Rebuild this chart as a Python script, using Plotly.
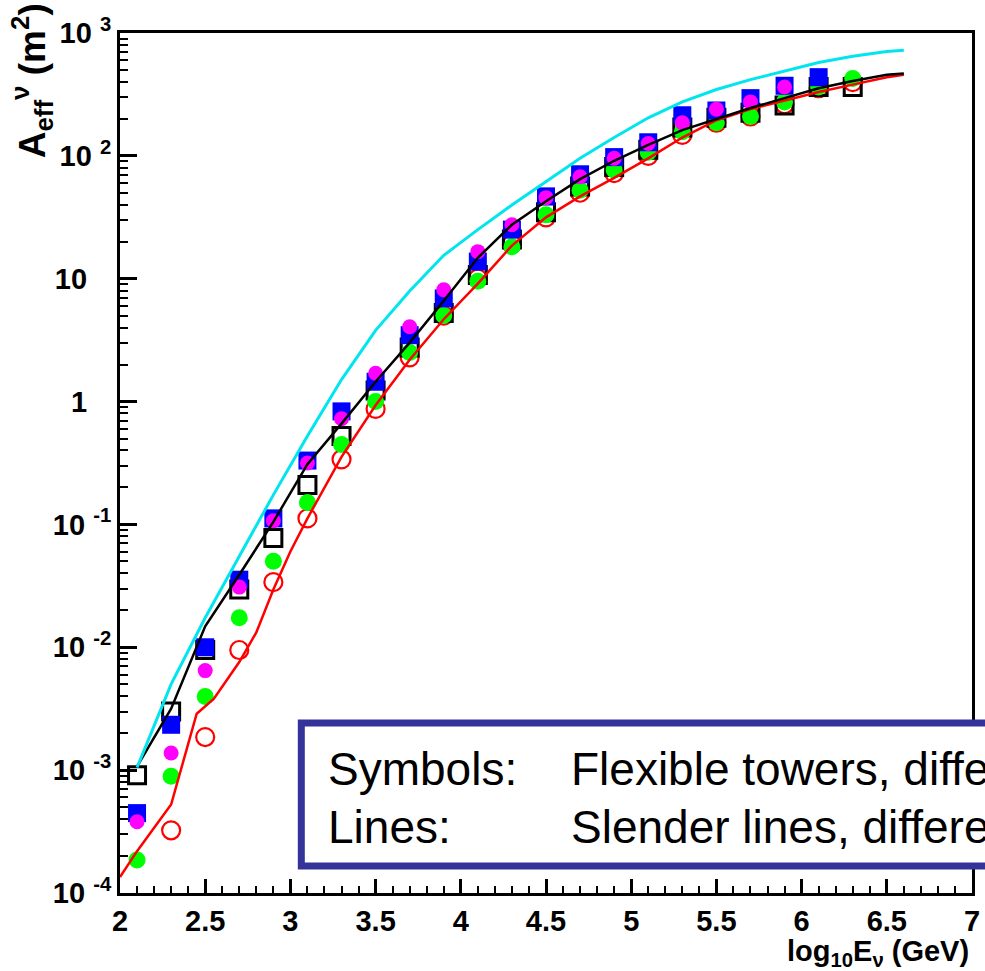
import plotly.graph_objects as go

# ---------------- data ----------------
x_sym = [2.1, 2.3, 2.5, 2.7, 2.9, 3.1, 3.3, 3.5, 3.7, 3.9, 4.1,
         4.3, 4.5, 4.7, 4.9, 5.1, 5.3, 5.5, 5.7, 5.9, 6.1, 6.3]

# black open squares
y_black_sq = [9.1e-4, 3.0e-3, 9.5e-3, 0.0295, 0.0776, 0.209, 0.525, 1.23, 2.75, 5.25, 10.7,
              20.9, 34.7, 56.2, 81.3, 112, 170, 204, 224, 257, 363, 363]
# blue filled squares (to 6.1)
y_blue_sq = [4.47e-4, 2.34e-3, 0.010, 0.0355, 0.112, 0.331, 0.832, 1.45, 3.47, 6.92, 13.8,
             25.1, 46.8, 70.8, 97.7, 129, 214, 234, 295, 372, 437]
# magenta filled circles (to 5.9)
y_magenta = [3.8e-4, 1.38e-3, 6.46e-3, 0.0309, 0.107, 0.316, 0.724, 1.70, 4.07, 8.13, 16.6,
             27.5, 45.7, 67.6, 95.5, 126, 186, 240, 275, 363]
# green filled circles
y_green = [1.86e-4, 8.9e-4, 3.98e-3, 0.0174, 0.0501, 0.151, 0.447, 1.0, 2.51, 5.01, 9.55,
           18.2, 33.1, 52.5, 76.7, 107, 157, 186, 209, 275, 363, 427]
# red open circles (from 2.3)
x_red_c = x_sym[1:]
y_red_c = [3.24e-4, 1.86e-3, 9.5e-3, 0.0339, 0.112, 0.339, 0.871, 2.29, 5.01, 10.0,
           19.1, 31.6, 50.1, 72.4, 100, 148, 186, 209, 263, 355, 398]

# lines
x_line = [2.1, 2.3, 2.5, 2.7, 2.9, 3.1, 3.3, 3.5, 3.7, 3.9, 4.1, 4.3,
          4.5, 4.7, 4.9, 5.1, 5.3, 5.5, 5.7, 5.9, 6.1, 6.3, 6.5, 6.6]
y_cyan_line = [1.05e-3, 5.01e-3, 0.0174, 0.0550, 0.174, 0.525, 1.51, 3.80, 7.94, 15.5, 25.1, 39.8,
               61.7, 95.5, 141, 204, 275, 347, 417, 490, 575, 646, 708, 724]
y_black_line = [1.07e-3, 3.16e-3, 0.0148, 0.0389, 0.105, 0.309, 0.661, 1.45, 3.02, 6.61, 14.8, 27.5,
                42.7, 64.6, 91.2, 123, 162, 200, 245, 295, 355, 407, 457, 468]
x_red_line = [2.0, 2.1, 2.3, 2.45, 2.55, 2.7, 2.8, 2.9, 3.0, 3.1, 3.3, 3.5, 3.7, 3.9, 4.1,
              4.3, 4.5, 4.7, 4.9, 5.1, 5.3, 5.5, 5.7, 5.9, 6.1, 6.3, 6.5, 6.6]
y_red_line = [1.35e-4, 2.19e-4, 5.25e-4, 2.88e-3, 3.80e-3, 7.59e-3, 0.0132, 0.0295, 0.0603, 0.112,
              0.355, 0.933, 2.19, 4.68, 9.12, 18.6, 31.6, 46.8, 66.1, 95.5, 141, 195, 240, 282,
              331, 380, 437, 457]

x_tick_vals = [2, 2.5, 3, 3.5, 4, 4.5, 5, 5.5, 6, 6.5, 7]
x_tick_text = ["2", "2.5", "3", "3.5", "4", "4.5", "5", "5.5", "6", "6.5", "7"]
y_tick_vals = [1e-4, 1e-3, 1e-2, 1e-1, 1, 10, 100, 1000]
NB = "\u00a0"
y_tick_text = ["10" + NB + "<sup>-4</sup>", "10" + NB + "<sup>-3</sup>",
               "10" + NB + "<sup>-2</sup>", "10" + NB + "<sup>-1</sup>",
               "1" + NB * 3, "10" + NB * 3,
               "10" + NB + "<sup>2</sup>", "10" + NB + "<sup>3</sup>"]

box_line1 = ("Symbols:", "Flexible towers, different configurations")
box_line2 = ("Lines:", "Slender lines, different configurations")

# ---------------- layout geometry ----------------
W, H = 985, 971
L, R, T, B = 120, 5, 33, 78
PW, PH = W - L - R, H - T - B


def px_x(p):
    return (p - L) / PW


def px_y(p):
    return (H - B - p) / PH


FONT = "Liberation Sans, Arial, sans-serif"

fig = go.Figure()

fig.add_trace(go.Scatter(x=x_red_c, y=y_red_c, mode="markers",
                         marker=dict(symbol="circle-open", size=18, color="#ff0000",
                                     line=dict(width=2.2, color="#ff0000"))))
fig.add_trace(go.Scatter(x=x_sym, y=y_black_sq, mode="markers",
                         marker=dict(symbol="square-open", size=17, color="black",
                                     line=dict(width=3, color="black"))))
fig.add_trace(go.Scatter(x=x_sym, y=y_green, mode="markers",
                         marker=dict(symbol="circle", size=17, color="#00ff00")))
fig.add_trace(go.Scatter(x=x_sym[:len(y_blue_sq)], y=y_blue_sq, mode="markers",
                         marker=dict(symbol="square", size=18, color="#0000ff")))
fig.add_trace(go.Scatter(x=x_sym[:len(y_magenta)], y=y_magenta, mode="markers",
                         marker=dict(symbol="circle", size=15, color="#ff00ff")))

fig.add_trace(go.Scatter(x=x_red_line, y=y_red_line, mode="lines",
                         line=dict(color="#ff0000", width=2.5)))
fig.add_trace(go.Scatter(x=x_line, y=y_black_line, mode="lines",
                         line=dict(color="black", width=2.5)))
fig.add_trace(go.Scatter(x=x_line, y=y_cyan_line, mode="lines",
                         line=dict(color="#00e5ee", width=3)))

tickfont = dict(family=FONT, size=29, color="black", weight="bold")

fig.update_layout(
    width=W, height=H,
    margin=dict(l=L, r=R, t=T, b=B, pad=0),
    plot_bgcolor="white", paper_bgcolor="white",
    showlegend=False,
    xaxis=dict(range=[2, 7], tickmode="array", tickvals=x_tick_vals, ticktext=x_tick_text,
               ticks="inside", ticklen=14, tickwidth=2.5, tickcolor="black",
               showline=True, linewidth=3, linecolor="black", mirror=True,
               showgrid=False, zeroline=False, tickfont=tickfont,
               ticklabeloverflow="allow",
               minor=dict(dtick=0.1, ticks="inside", ticklen=7, tickwidth=2,
                          tickcolor="black", showgrid=False)),
    yaxis=dict(type="log", range=[-4, 3], tickmode="array", tickvals=y_tick_vals,
               ticktext=y_tick_text,
               ticks="inside", ticklen=17, tickwidth=2.5, tickcolor="black",
               showline=True, linewidth=3, linecolor="black", mirror=True,
               showgrid=False, zeroline=False, tickfont=tickfont,
               ticklabeloverflow="allow",
               minor=dict(tickmode="array",
                          tickvals=[k * 10.0 ** n for n in range(-4, 3) for k in range(2, 10)],
                          ticks="inside", ticklen=8, tickwidth=2, tickcolor="black",
                          showgrid=False)),
)

# axis titles
fig.add_annotation(xref="paper", yref="paper", x=px_x(979), y=px_y(953),
                   xanchor="right", yanchor="middle", showarrow=False,
                   text="log<sub>10</sub>E<sub>ν</sub> (GeV)",
                   font=dict(family=FONT, size=29, color="black", weight="bold"))
fig.add_annotation(xref="paper", yref="paper", x=px_x(31), y=px_y(1),
                   xanchor="center", yanchor="top", showarrow=False, textangle=-90,
                   text="A<sub>eff</sub><sup>ν</sup> (m<sup>2</sup>)",
                   font=dict(family=FONT, size=37, color="black", weight="bold"))

# text box
fig.add_shape(type="rect", xref="paper", yref="paper",
              x0=px_x(303), x1=px_x(1010), y0=px_y(866), y1=px_y(723),
              line=dict(color="#333399", width=7), fillcolor="white", layer="above")
for (lab, txt), yc in ((box_line1, 769), (box_line2, 827)):
    fig.add_annotation(xref="paper", yref="paper", x=px_x(328), y=px_y(yc),
                       xanchor="left", yanchor="middle", showarrow=False, text=lab,
                       font=dict(family=FONT, size=46, color="black"))
    fig.add_annotation(xref="paper", yref="paper", x=px_x(573), y=px_y(yc),
                       xanchor="left", yanchor="middle", showarrow=False, text=txt,
                       font=dict(family=FONT, size=46, color="black"))

fig.write_html(
    "out.html",
    config={"displayModeBar": False},
    post_script="document.body.style.margin='0';document.body.style.overflow='hidden';",
)
